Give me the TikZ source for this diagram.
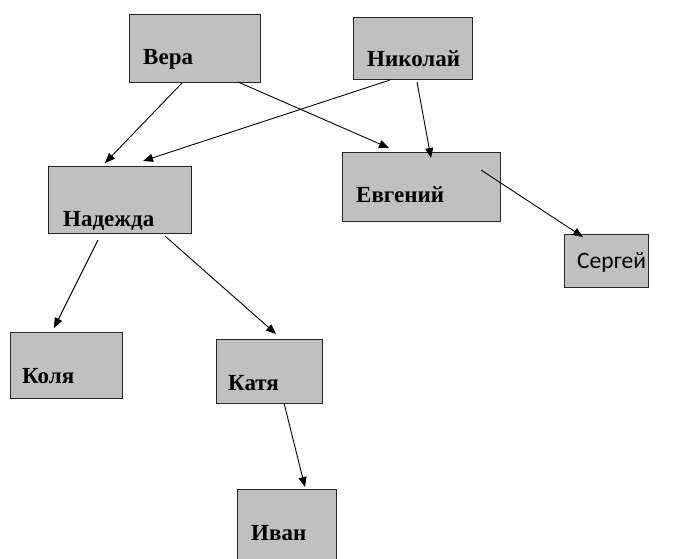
\documentclass[tikz,border=0pt]{standalone}
\usepackage{fontspec}
\setmainfont{Liberation Serif}
\newfontfamily\sergfont{Carlito}
\usetikzlibrary{arrows.meta,calc}
\definecolor{boxgray}{RGB}{192,192,192}
\tikzset{
  box/.style={draw=black!85, fill=boxgray, line width=1pt, inner sep=0pt, anchor=north west},
  lbl/.style={anchor=base west, inner sep=0pt, font=\fontsize{23}{26}\selectfont\bfseries},
  conn/.style={line width=0.9pt, -{Triangle[length=10pt,width=8pt]}}
}
\begin{document}
\begin{tikzpicture}[x=1pt,y=-1pt]
\useasboundingbox (0,0) rectangle (675,559);
\clip (0,0) rectangle (675,559);
% boxes
\node[box, minimum width=131pt, minimum height=68pt] (vera) at (129,14) {};
\node[box, minimum width=119pt, minimum height=62pt] (nik) at (353,17) {};
\node[box, minimum width=158pt, minimum height=69pt] (evg) at (342,152) {};
\node[box, minimum width=143pt, minimum height=67pt] (nad) at (48,166) {};
\node[box, minimum width=84pt, minimum height=53pt] (serg) at (564,234) {};
\node[box, minimum width=112pt, minimum height=66pt] (kol) at (10,332) {};
\node[box, minimum width=106pt, minimum height=64pt] (kat) at (216,339) {};
\node[box, minimum width=99pt, minimum height=80pt] (ivan) at (237,489) {};
% labels
\node[lbl] (tvera) at ($(vera.north west)+(14,51)$) {Вера};
\node[lbl] (tnik) at ($(nik.north west)+(14,50)$) {Николай};
\node[lbl] (tevg) at ($(evg.north west)+(14,51)$) {Евгений};
\node[lbl] (tnad) at ($(nad.north west)+(15,60)$) {Надежда};
\node[lbl, font=\fontsize{23.5}{26}\selectfont\sergfont] (tserg) at ($(serg.north west)+(13,34)$) {Сергей};
\node[lbl] (tkol) at ($(kol.north west)+(12,51)$) {Коля};
\node[lbl] (tkat) at ($(kat.north west)+(12,51)$) {Катя};
\node[lbl] (tivan) at ($(ivan.north west)+(14,51)$) {Иван};
% connectors
\draw[conn] ($(vera.north west)+(53,69)$) -- ($(nad.north west)+(57,-3)$);
\draw[conn] ($(vera.north west)+(109,68)$) -- ($(evg.north west)+(47,-4)$);
\draw[conn] ($(nik.north west)+(37,63)$) -- ($(nad.north west)+(95,-5)$);
\draw[conn] ($(nik.north west)+(64,65)$) -- ($(evg.north west)+(89,6)$);
\draw[conn] ($(evg.north west)+(139,18)$) -- ($(serg.north west)+(19,3)$);
\draw[conn] ($(nad.north west)+(50,74)$) -- ($(kol.north west)+(44,-4)$);
\draw[conn] ($(nad.north west)+(117,70)$) -- ($(kat.north west)+(60,-5)$);
\draw[conn] ($(kat.north west)+(68,64)$) -- ($(ivan.north west)+(68,-2)$);
\end{tikzpicture}
\end{document}
